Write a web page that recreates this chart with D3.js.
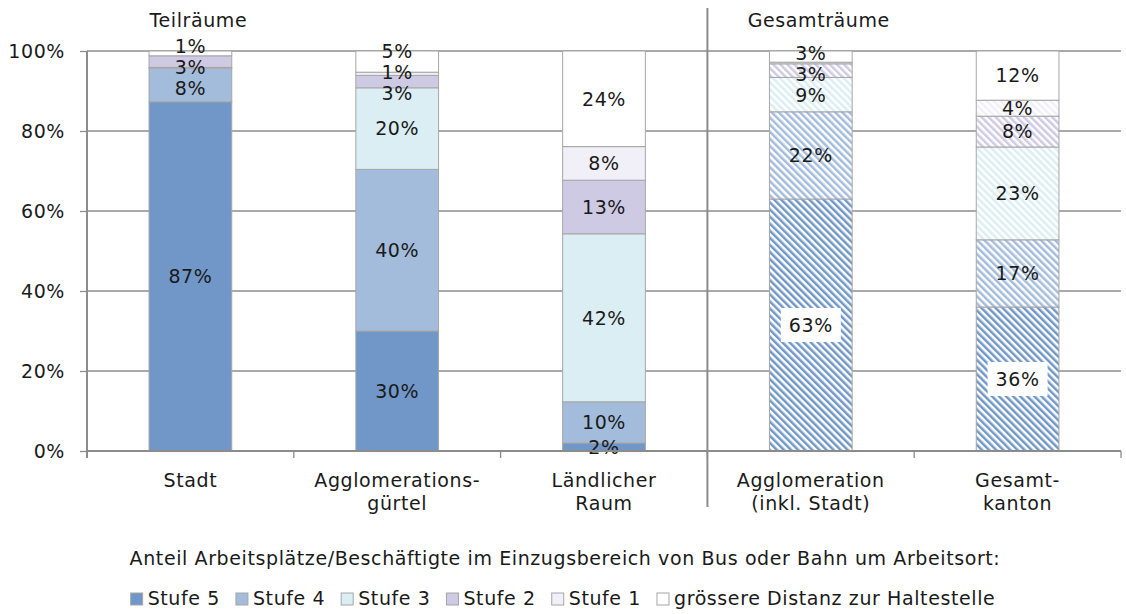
<!DOCTYPE html>
<html>
<head>
<meta charset="utf-8">
<script src="https://cdn.jsdelivr.net/npm/d3@7"></script>
<style>
  body { margin: 0; background: #fff; }
  svg { font-family: "DejaVu Sans", Verdana, sans-serif; letter-spacing: 0.6px; }
</style>
</head>
<body>
<script>
/* Data */
var categories = ["Stadt", "Agglomerations-\ngürtel", "Ländlicher\nRaum", "Agglomeration\n(inkl. Stadt)", "Gesamt-\nkanton"];
var hatched = [false, false, false, true, true];
var series = ["Stufe 5", "Stufe 4", "Stufe 3", "Stufe 2", "Stufe 1", "grössere Distanz zur Haltestelle"];
var stufe5 = [87.3, 30.0, 2.0, 63.0, 36.0];
var stufe4 = [8.4, 40.4, 10.3, 21.8, 16.8];
var stufe3 = [0.2, 20.4, 42.0, 8.6, 23.2];
var stufe2 = [2.9, 3.1, 13.4, 3.4, 7.7];
var stufe1 = [0.0, 0.8, 8.4, 0.4, 4.0];
var distanz = [1.2, 5.3, 23.9, 2.8, 12.3];
var yTicks = [0, 20, 40, 60, 80, 100];
var groups = ["Teilräume", "Gesamträume"];
var legendTitle = "Anteil Arbeitsplätze/Beschäftigte im Einzugsbereich von Bus oder Bahn um Arbeitsort:";

var colors = ["#7097c8", "#a3bcdb", "#daeef3", "#cfcae4", "#f1eff7", "#ffffff"];
var values = [stufe5, stufe4, stufe3, stufe2, stufe1, distanz];

var WIDTH = 1126, HEIGHT = 614;
var mLeft = 87, mRight = 1121, mTop = 51, mBottom = 451;
var FS = 19;
var LABEL_GAP = 21;

var svg = d3.select("body").append("svg")
    .attr("width", WIDTH)
    .attr("height", HEIGHT);

var defs = svg.append("defs");
colors.forEach(function(c, i) {
  var p = defs.append("pattern")
      .attr("id", "hatch" + i)
      .attr("patternUnits", "userSpaceOnUse")
      .attr("width", 5).attr("height", 5)
      .attr("patternTransform", "rotate(-45)");
  p.append("rect").attr("width", 5).attr("height", 5).attr("fill", "#fff");
  p.append("rect").attr("width", 2.5).attr("height", 5).attr("fill", c);
});

var x = d3.scaleBand().domain(categories).range([mLeft, mRight])
    .paddingInner(0.6).paddingOuter(0.3);
var y = d3.scaleLinear().domain([0, 100]).range([mBottom, mTop]);

// gridlines
svg.append("g").selectAll("line").data(yTicks.filter(function(d) { return d > 0; }))
  .join("line")
    .attr("x1", mLeft).attr("x2", mRight)
    .attr("y1", function(d) { return y(d); }).attr("y2", function(d) { return y(d); })
    .attr("stroke", "#8c8c8c").attr("stroke-width", 1.3);

// stacked bars
var stack = categories.map(function(c, ci) {
  var acc = 0;
  return values.map(function(arr, si) {
    var seg = {cat: c, ci: ci, si: si, v: arr[ci], y0: acc, y1: acc + arr[ci]};
    acc += arr[ci];
    return seg;
  });
});
var segs = [].concat.apply([], stack).filter(function(d) { return d.v > 0; });

svg.append("g").selectAll("rect").data(segs)
  .join("rect")
    .attr("x", function(d) { return x(d.cat); })
    .attr("width", x.bandwidth())
    .attr("y", function(d) { return y(d.y1); })
    .attr("height", function(d) { return y(d.y0) - y(d.y1); })
    .attr("fill", function(d) { return hatched[d.ci] ? "url(#hatch" + d.si + ")" : colors[d.si]; })
    .attr("stroke", "#a6a6a6").attr("stroke-width", 1);

// label positions: segment centre, pushed apart where small segments crowd
var labelData = segs.filter(function(d) { return d.v >= 0.5; });
labelData.forEach(function(d) { d.ly = y((d.y0 + d.y1) / 2); });
categories.forEach(function(c) {
  var ls = labelData.filter(function(d) { return d.cat === c; })
      .sort(function(a, b) { return a.ly - b.ly; });
  for (var it = 0; it < 30; it++) {
    for (var i = 1; i < ls.length; i++) {
      var gap = ls[i].ly - ls[i - 1].ly;
      if (gap < LABEL_GAP) {
        var push = (LABEL_GAP - gap) / 2;
        ls[i - 1].ly -= push;
        ls[i].ly += push;
      }
    }
  }
});

var labs = svg.append("g").selectAll("g").data(labelData)
  .join("g")
    .attr("transform", function(d) {
      return "translate(" + (x(d.cat) + x.bandwidth() / 2) + "," + d.ly + ")";
    });
labs.filter(function(d) { return hatched[d.ci] && d.si === 0; })
  .append("rect")
    .attr("x", -30).attr("y", -17).attr("width", 60).attr("height", 34)
    .attr("fill", "#fff");
labs.append("text")
    .attr("text-anchor", "middle")
    .attr("dy", "0.36em")
    .attr("font-size", FS)
    .attr("fill", "#1a1a1a")
    .text(function(d) { return Math.round(d.v) + "%"; });

// y axis
var yAxis = svg.append("g")
    .attr("transform", "translate(" + mLeft + ",0)")
    .call(d3.axisLeft(y).tickValues(yTicks).tickFormat(function(d) { return d + "%"; })
      .tickSize(7).tickPadding(15));
yAxis.select(".domain").remove();
yAxis.selectAll("line").attr("stroke", "#8c8c8c").attr("stroke-width", 1.3);
yAxis.selectAll("text").attr("font-size", FS).attr("font-family", "DejaVu Sans").attr("fill", "#1a1a1a");
svg.append("line")
    .attr("x1", mLeft).attr("x2", mLeft).attr("y1", mTop).attr("y2", mBottom + 7)
    .attr("stroke", "#8c8c8c").attr("stroke-width", 2);

// x axis
svg.append("line")
    .attr("x1", mLeft).attr("x2", mRight).attr("y1", mBottom).attr("y2", mBottom)
    .attr("stroke", "#8c8c8c").attr("stroke-width", 2);
var bounds = d3.range(categories.length + 1).map(function(i) { return mLeft + i * x.step(); });
svg.append("g").selectAll("line").data(bounds)
  .join("line")
    .attr("x1", function(d) { return d; }).attr("x2", function(d) { return d; })
    .attr("y1", mBottom).attr("y2", mBottom + 7)
    .attr("stroke", "#8c8c8c").attr("stroke-width", 1.3);

svg.append("g").selectAll("text").data(categories)
  .join("text")
    .attr("text-anchor", "middle")
    .attr("font-size", FS)
    .attr("fill", "#1a1a1a")
    .attr("x", function(d) { return x(d) + x.bandwidth() / 2; })
    .attr("y", 487)
    .selectAll("tspan").data(function(d) { return d.split("\n"); })
    .join("tspan")
      .attr("x", function() { var p = this.parentNode.__data__; return x(p) + x.bandwidth() / 2; })
      .attr("dy", function(d, i) { return i ? 23 : 0; })
      .text(function(d) { return d; });

// separator between groups
var sep = bounds[3];
svg.append("line")
    .attr("x1", sep).attr("x2", sep).attr("y1", 8).attr("y2", 507)
    .attr("stroke", "#8c8c8c").attr("stroke-width", 2);

// group titles
svg.append("g").selectAll("text").data(groups)
  .join("text")
    .attr("text-anchor", "middle")
    .attr("font-size", FS)
    .attr("fill", "#1a1a1a")
    .attr("x", function(d, i) { var c = categories[i * 3]; return x(c) + x.bandwidth() / 2 + 8; })
    .attr("y", 27)
    .text(function(d) { return d; });

// legend
svg.append("text")
    .attr("x", WIDTH / 2 + 2).attr("y", 565)
    .attr("text-anchor", "middle")
    .attr("font-size", FS)
    .attr("fill", "#1a1a1a")
    .text(legendTitle);

var legend = svg.append("g");
var lx = 0;
series.forEach(function(s, i) {
  var g = legend.append("g").attr("transform", "translate(" + lx + ",0)");
  g.append("rect").attr("x", 0).attr("y", -12).attr("width", 12).attr("height", 12)
      .attr("fill", colors[i]).attr("stroke", "#a6a6a6").attr("stroke-width", 1);
  var t = g.append("text").attr("x", 17).attr("y", 0)
      .attr("font-size", FS).attr("fill", "#1a1a1a").text(s);
  lx += 17 + t.node().getComputedTextLength() + 16;
});
lx -= 16;
legend.attr("transform", "translate(" + (WIDTH / 2 - lx / 2) + ",605)");
</script>
</body>
</html>
